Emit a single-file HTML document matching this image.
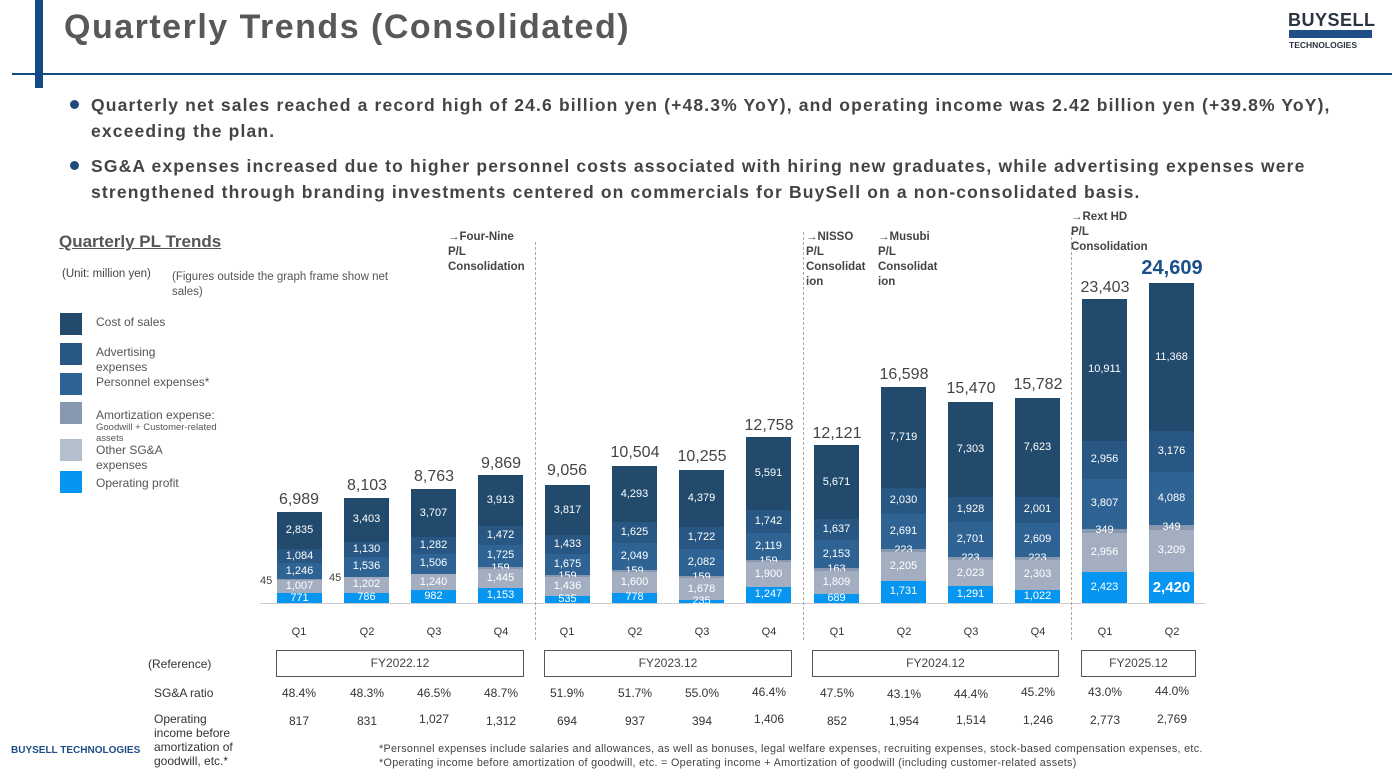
<!DOCTYPE html>
<html><head><meta charset="utf-8"><style>
*{margin:0;padding:0;box-sizing:border-box}
body{width:1392px;height:778px;background:#fff;position:relative;overflow:hidden;font-family:"Liberation Sans",sans-serif;color:#404040}
.a{position:absolute;white-space:nowrap}
.bar{position:absolute;bottom:175px;width:45px;display:flex;flex-direction:column-reverse}
.bar div{width:45px;display:flex;align-items:center;justify-content:center;color:#fff;font-size:11px;overflow:visible;white-space:nowrap;line-height:1}
.op{background:#0696f2}.ot{background:#a3afc0}.am{background:#8898b0}.pe{background:#2e6394}.ad{background:#275782}.co{background:#214a6c}
.tot{position:absolute;width:80px;text-align:center;font-size:16px;color:#444}
.q{position:absolute;top:626px;width:40px;text-align:center;font-size:11px;color:#333}
.dash{position:absolute;width:0;border-left:1.5px dashed #aaa}
.ann{position:absolute;font-size:11.5px;font-weight:bold;color:#444;line-height:15px}
.box{position:absolute;top:650px;height:27px;border:1px solid #555;font-size:12px;text-align:center;line-height:25px;color:#444}
.r{position:absolute;width:60px;text-align:center;font-size:12px;color:#333}
.lg{position:absolute;left:60px;width:22px;height:22px}
.lt{position:absolute;left:96px;font-size:12px;color:#555;line-height:14px}
.bl{position:absolute;left:91px;font-size:17.5px;font-weight:bold;color:#444;line-height:26px;white-space:normal;width:1272px;letter-spacing:1.15px}
</style></head><body>
<div class="a" style="left:35px;top:0;width:8px;height:88px;background:#0f4a86"></div>
<div class="a" style="left:12px;top:73px;width:1380px;height:2px;background:#0f4a86"></div>
<div class="a" style="left:64px;top:8px;font-size:34px;font-weight:bold;color:#58585b;letter-spacing:1.5px">Quarterly Trends (Consolidated)</div>
<div class="a" style="left:1288px;top:10px;font-size:18px;font-weight:900;color:#2b3440;letter-spacing:0.5px">BUYSELL</div>
<div class="a" style="left:1289px;top:30px;width:83px;height:8px;background:#1f4f86"></div>
<div class="a" style="left:1289px;top:40px;font-size:8.5px;font-weight:bold;color:#2b3440">TECHNOLOGIES</div>

<div class="a" style="left:70px;top:100px;width:9px;height:9px;border-radius:50%;background:#1f4a7a"></div>
<div class="bl" style="top:92px">Quarterly net sales reached a record high of 24.6 billion yen (+48.3% YoY), and operating income was 2.42 billion yen (+39.8% YoY),<br>exceeding the plan.</div>
<div class="a" style="left:70px;top:161px;width:9px;height:9px;border-radius:50%;background:#1f4a7a"></div>
<div class="bl" style="top:153px">SG&amp;A expenses increased due to higher personnel costs associated with hiring new graduates, while advertising expenses were<br>strengthened through branding investments centered on commercials for BuySell on a non-consolidated basis.</div>

<div class="a" style="left:59px;top:232px;font-size:17px;font-weight:bold;color:#555;text-decoration:underline">Quarterly PL Trends</div>
<div class="a" style="left:62px;top:268px;font-size:11.5px;color:#444">(Unit: million yen)</div>
<div class="a" style="left:172px;top:270px;font-size:11.5px;color:#555;white-space:normal;width:240px;line-height:15px">(Figures outside the graph frame show net sales)</div>

<div class="lg co" style="top:313px"></div><div class="lt" style="top:315px">Cost of sales</div>
<div class="lg ad" style="top:343px"></div><div class="lt" style="top:345px;line-height:15px">Advertising<br>expenses</div>
<div class="lg pe" style="top:373px"></div><div class="lt" style="top:375px">Personnel expenses*</div>
<div class="lg am" style="top:402px"></div><div class="lt" style="top:408px">Amortization expense:</div><div class="lt" style="top:422px;font-size:9.5px;line-height:11px">Goodwill + Customer-related<br>assets</div>
<div class="lg" style="top:439px;background:#b3bfcc"></div><div class="lt" style="top:443px;line-height:15px">Other SG&amp;A<br>expenses</div>
<div class="lg op" style="top:471px"></div><div class="lt" style="top:476px">Operating profit</div>

<div class="a" style="left:260px;top:603px;width:945px;height:1px;background:#ccc"></div>
<div class="dash" style="left:535px;top:242px;height:398px"></div>
<div class="dash" style="left:803px;top:232px;height:408px"></div>
<div class="dash" style="left:1071px;top:232px;height:408px"></div>
<div class="ann" style="left:448px;top:230px">→Four-Nine<br>P/L<br>Consolidation</div>
<div class="ann" style="left:806px;top:230px">→NISSO<br>P/L<br>Consolidat<br>ion</div>
<div class="ann" style="left:878px;top:230px">→Musubi<br>P/L<br>Consolidat<br>ion</div>
<div class="ann" style="left:1071px;top:210px">→Rext HD<br>P/L<br>Consolidation</div>

<div class="bar" style="left:277px"><div class="op" style="height:calc(771*0.013px)">771</div><div class="ot" style="height:calc(1007*0.013px)">1,007</div><div class="am" style="height:calc(45*0.013px)"></div><div class="pe" style="height:calc(1246*0.013px)">1,246</div><div class="ad" style="height:calc(1084*0.013px)">1,084</div><div class="co" style="height:calc(2835*0.013px)">2,835</div></div>
<div class="tot" style="left:259px;top:491px">6,989</div><div class="a" style="left:260px;top:575px;font-size:11px">45</div>
<div class="bar" style="left:344px"><div class="op" style="height:calc(786*0.013px)">786</div><div class="ot" style="height:calc(1202*0.013px)">1,202</div><div class="am" style="height:calc(45*0.013px)"></div><div class="pe" style="height:calc(1536*0.013px)">1,536</div><div class="ad" style="height:calc(1130*0.013px)">1,130</div><div class="co" style="height:calc(3403*0.013px)">3,403</div></div>
<div class="tot" style="left:327px;top:477px">8,103</div><div class="a" style="left:329px;top:572px;font-size:11px">45</div>
<div class="bar" style="left:411px"><div class="op" style="height:calc(982*0.013px)">982</div><div class="ot" style="height:calc(1240*0.013px)">1,240</div><div class="am" style="height:calc(45*0.013px)"></div><div class="pe" style="height:calc(1506*0.013px)">1,506</div><div class="ad" style="height:calc(1282*0.013px)">1,282</div><div class="co" style="height:calc(3707*0.013px)">3,707</div></div>
<div class="tot" style="left:394px;top:468px">8,763</div>
<div class="bar" style="left:478px"><div class="op" style="height:calc(1153*0.013px)">1,153</div><div class="ot" style="height:calc(1445*0.013px)">1,445</div><div class="am" style="height:calc(159*0.013px)">159</div><div class="pe" style="height:calc(1725*0.013px)">1,725</div><div class="ad" style="height:calc(1472*0.013px)">1,472</div><div class="co" style="height:calc(3913*0.013px)">3,913</div></div>
<div class="tot" style="left:461px;top:455px">9,869</div>
<div class="bar" style="left:545px"><div class="op" style="height:calc(535*0.013px)">535</div><div class="ot" style="height:calc(1436*0.013px)">1,436</div><div class="am" style="height:calc(159*0.013px)">159</div><div class="pe" style="height:calc(1675*0.013px)">1,675</div><div class="ad" style="height:calc(1433*0.013px)">1,433</div><div class="co" style="height:calc(3817*0.013px)">3,817</div></div>
<div class="tot" style="left:527px;top:462px">9,056</div>
<div class="bar" style="left:612px"><div class="op" style="height:calc(778*0.013px)">778</div><div class="ot" style="height:calc(1600*0.013px)">1,600</div><div class="am" style="height:calc(159*0.013px)">159</div><div class="pe" style="height:calc(2049*0.013px)">2,049</div><div class="ad" style="height:calc(1625*0.013px)">1,625</div><div class="co" style="height:calc(4293*0.013px)">4,293</div></div>
<div class="tot" style="left:595px;top:444px">10,504</div>
<div class="bar" style="left:679px"><div class="op" style="height:calc(235*0.013px)">235</div><div class="ot" style="height:calc(1678*0.013px)">1,678</div><div class="am" style="height:calc(159*0.013px)">159</div><div class="pe" style="height:calc(2082*0.013px)">2,082</div><div class="ad" style="height:calc(1722*0.013px)">1,722</div><div class="co" style="height:calc(4379*0.013px)">4,379</div></div>
<div class="tot" style="left:662px;top:448px">10,255</div>
<div class="bar" style="left:746px"><div class="op" style="height:calc(1247*0.013px)">1,247</div><div class="ot" style="height:calc(1900*0.013px)">1,900</div><div class="am" style="height:calc(159*0.013px)">159</div><div class="pe" style="height:calc(2119*0.013px)">2,119</div><div class="ad" style="height:calc(1742*0.013px)">1,742</div><div class="co" style="height:calc(5591*0.013px)">5,591</div></div>
<div class="tot" style="left:729px;top:417px">12,758</div>
<div class="bar" style="left:814px"><div class="op" style="height:calc(689*0.013px)">689</div><div class="ot" style="height:calc(1809*0.013px)">1,809</div><div class="am" style="height:calc(163*0.013px)">163</div><div class="pe" style="height:calc(2153*0.013px)">2,153</div><div class="ad" style="height:calc(1637*0.013px)">1,637</div><div class="co" style="height:calc(5671*0.013px)">5,671</div></div>
<div class="tot" style="left:797px;top:425px">12,121</div>
<div class="bar" style="left:881px"><div class="op" style="height:calc(1731*0.013px)">1,731</div><div class="ot" style="height:calc(2205*0.013px)">2,205</div><div class="am" style="height:calc(223*0.013px)">223</div><div class="pe" style="height:calc(2691*0.013px)">2,691</div><div class="ad" style="height:calc(2030*0.013px)">2,030</div><div class="co" style="height:calc(7719*0.013px)">7,719</div></div>
<div class="tot" style="left:864px;top:366px">16,598</div>
<div class="bar" style="left:948px"><div class="op" style="height:calc(1291*0.013px)">1,291</div><div class="ot" style="height:calc(2023*0.013px)">2,023</div><div class="am" style="height:calc(223*0.013px)">223</div><div class="pe" style="height:calc(2701*0.013px)">2,701</div><div class="ad" style="height:calc(1928*0.013px)">1,928</div><div class="co" style="height:calc(7303*0.013px)">7,303</div></div>
<div class="tot" style="left:931px;top:380px">15,470</div>
<div class="bar" style="left:1015px"><div class="op" style="height:calc(1022*0.013px)">1,022</div><div class="ot" style="height:calc(2303*0.013px)">2,303</div><div class="am" style="height:calc(223*0.013px)">223</div><div class="pe" style="height:calc(2609*0.013px)">2,609</div><div class="ad" style="height:calc(2001*0.013px)">2,001</div><div class="co" style="height:calc(7623*0.013px)">7,623</div></div>
<div class="tot" style="left:998px;top:376px">15,782</div>
<div class="bar" style="left:1082px"><div class="op" style="height:calc(2423*0.013px)">2,423</div><div class="ot" style="height:calc(2956*0.013px)">2,956</div><div class="am" style="height:calc(349*0.013px)">349</div><div class="pe" style="height:calc(3807*0.013px)">3,807</div><div class="ad" style="height:calc(2956*0.013px)">2,956</div><div class="co" style="height:calc(10911*0.013px)">10,911</div></div>
<div class="tot" style="left:1065px;top:279px">23,403</div>
<div class="bar" style="left:1149px"><div class="op" style="height:calc(2420*0.013px);font-size:15px;font-weight:bold">2,420</div><div class="ot" style="height:calc(3209*0.013px)">3,209</div><div class="am" style="height:calc(349*0.013px)">349</div><div class="pe" style="height:calc(4088*0.013px)">4,088</div><div class="ad" style="height:calc(3176*0.013px)">3,176</div><div class="co" style="height:calc(11368*0.013px)">11,368</div></div>
<div class="tot" style="left:1132px;top:257px;font-size:20px;font-weight:bold;color:#1a4f8a">24,609</div>

<div class="q" style="left:279px">Q1</div><div class="q" style="left:347px">Q2</div><div class="q" style="left:414px">Q3</div><div class="q" style="left:481px">Q4</div>
<div class="q" style="left:547px">Q1</div><div class="q" style="left:615px">Q2</div><div class="q" style="left:682px">Q3</div><div class="q" style="left:749px">Q4</div>
<div class="q" style="left:817px">Q1</div><div class="q" style="left:884px">Q2</div><div class="q" style="left:951px">Q3</div><div class="q" style="left:1018px">Q4</div>
<div class="q" style="left:1085px">Q1</div><div class="q" style="left:1152px">Q2</div>

<div class="a" style="left:148px;top:657px;font-size:12px;color:#333">(Reference)</div>
<div class="box" style="left:276px;width:248px">FY2022.12</div>
<div class="box" style="left:544px;width:248px">FY2023.12</div>
<div class="box" style="left:812px;width:247px">FY2024.12</div>
<div class="box" style="left:1081px;width:115px">FY2025.12</div>

<div class="a" style="left:154px;top:686px;font-size:12px;color:#333">SG&amp;A ratio</div>
<div class="a" style="left:154px;top:712px;font-size:12px;color:#333;line-height:14px">Operating<br>income before<br>amortization of<br>goodwill, etc.*</div>
<div class="r" style="left:269px;top:686px">48.4%</div><div class="r" style="left:337px;top:686px">48.3%</div><div class="r" style="left:404px;top:686px">46.5%</div><div class="r" style="left:471px;top:686px">48.7%</div>
<div class="r" style="left:537px;top:686px">51.9%</div><div class="r" style="left:605px;top:686px">51.7%</div><div class="r" style="left:672px;top:686px">55.0%</div><div class="r" style="left:739px;top:685px">46.4%</div>
<div class="r" style="left:807px;top:686px">47.5%</div><div class="r" style="left:874px;top:687px">43.1%</div><div class="r" style="left:941px;top:687px">44.4%</div><div class="r" style="left:1008px;top:685px">45.2%</div>
<div class="r" style="left:1075px;top:685px">43.0%</div><div class="r" style="left:1142px;top:684px">44.0%</div>
<div class="r" style="left:269px;top:714px">817</div><div class="r" style="left:337px;top:714px">831</div><div class="r" style="left:404px;top:712px">1,027</div><div class="r" style="left:471px;top:714px">1,312</div>
<div class="r" style="left:537px;top:714px">694</div><div class="r" style="left:605px;top:714px">937</div><div class="r" style="left:672px;top:714px">394</div><div class="r" style="left:739px;top:712px">1,406</div>
<div class="r" style="left:807px;top:714px">852</div><div class="r" style="left:874px;top:714px">1,954</div><div class="r" style="left:941px;top:713px">1,514</div><div class="r" style="left:1008px;top:713px">1,246</div>
<div class="r" style="left:1075px;top:713px">2,773</div><div class="r" style="left:1142px;top:712px">2,769</div>

<div class="a" style="left:11px;top:745px;font-size:10px;font-weight:bold;color:#1f4f86">BUYSELL TECHNOLOGIES</div>
<div class="a" style="left:379px;top:743px;font-size:10.8px;color:#444;letter-spacing:0.3px">*Personnel expenses include salaries and allowances, as well as bonuses, legal welfare expenses, recruiting expenses, stock-based compensation expenses, etc.</div>
<div class="a" style="left:379px;top:757px;font-size:10.8px;color:#444;letter-spacing:0.3px">*Operating income before amortization of goodwill, etc. = Operating income + Amortization of goodwill (including customer-related assets)</div>
</body></html>
